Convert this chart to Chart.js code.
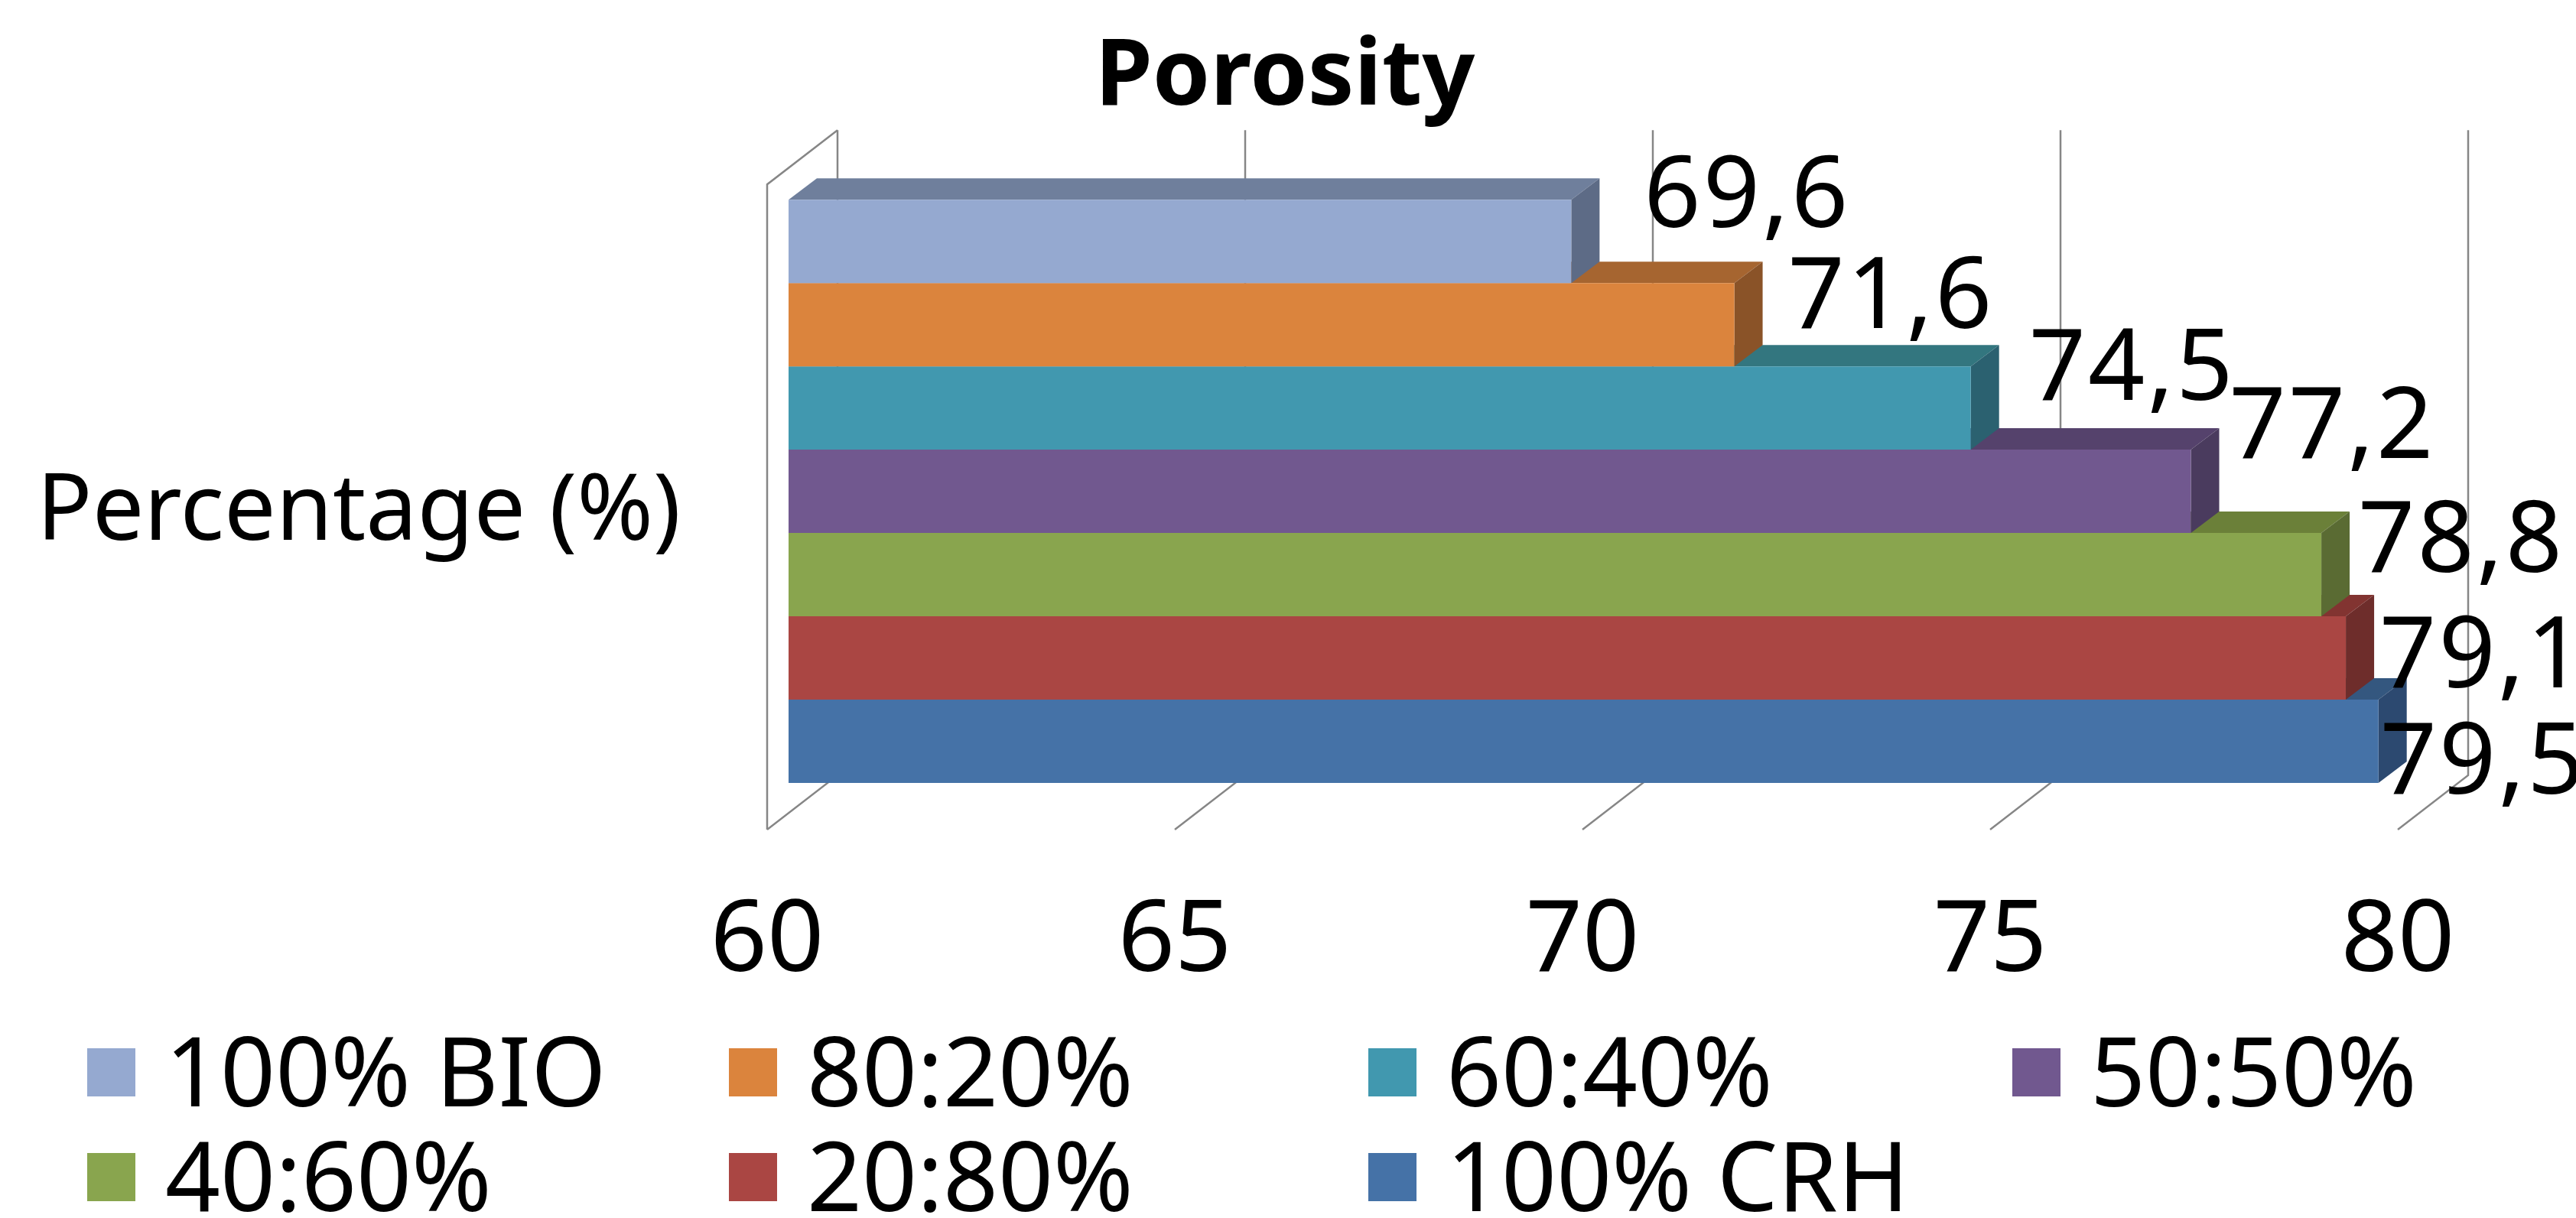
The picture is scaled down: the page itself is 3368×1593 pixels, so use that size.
<!DOCTYPE html>
<html>
<head>
<meta charset="utf-8">
<title>Porosity</title>
<script src="https://cdn.jsdelivr.net/npm/chart.js@4"></script>
<style>
    html, body { margin: 0; padding: 0; background: #fff; }
    canvas { display: block; }
</style>
</head>
<body>
<canvas id="myChart" width="3368" height="1593"></canvas>
<script>
const categories = ['Percentage (%)']
const seriesNames = ['100% BIO', '80:20%', '60:40%', '50:50%', '40:60%', '20:80%', '100% CRH']
const porosity = [69.6, 71.6, 74.5, 77.2, 78.8, 79.1, 79.5]
const xTicks = [60, 65, 70, 75, 80]

const frontColors = ['#95a9d0', '#db843d', '#4198af', '#71588f', '#89a54e', '#aa4643', '#4572a7']
const topColors = ['#6f7f9c', '#a66530', '#33767f', '#55426c', '#6b8039', '#823431', '#34577f']
const sideColors = ['#5d6b86', '#8a5328', '#2b6170', '#4a3b5e', '#5a6b33', '#6e2d2b', '#2c4970']

// hand placed data labels, offset from the bar end: [dx, baseline dy]
const labelOffsets = [[95, -19], [70, 4], [76, -11], [50, -44], [48, -4], [44, 38], [2, 68]]

const FONT = '"Noto Sans"'
const depth = { x: 37, y: -28 }
const barShift = { x: 28, y: -20.5 }
const wallDepth = { x: 92, y: -71 }
const legendCols = [114, 953, 1789, 2631]
const legendRows = [1371, 1508]

const box3d = {
    id: 'box3d',
    afterLayout(chart) {
        // title is centred on the padded box, the long category label still has to show left of it
        chart.scales.y.left = 0
    },
    beforeDatasetsDraw(chart) {
        // back wall, floor lines
        const { ctx, chartArea, scales } = chart
        ctx.save()
        ctx.strokeStyle = '#868686'
        ctx.lineWidth = 2.5
        xTicks.forEach(t => {
            const x = scales.x.getPixelForValue(t)
            ctx.beginPath()
            ctx.moveTo(x + wallDepth.x, chartArea.top + wallDepth.y)
            ctx.lineTo(x + wallDepth.x, chartArea.bottom + wallDepth.y)
            ctx.lineTo(x, chartArea.bottom)
            ctx.stroke()
        })
        const left = chartArea.left
        ctx.beginPath()
        ctx.moveTo(left + wallDepth.x, chartArea.top + wallDepth.y)
        ctx.lineTo(left, chartArea.top)
        ctx.lineTo(left, chartArea.bottom)
        ctx.stroke()
        ctx.restore()
    },
    beforeDatasetDraw(chart, args) {
        const { ctx } = chart
        ctx.save()
        ctx.translate(barShift.x, barShift.y)
        args.meta.data.forEach(bar => {
            const t = bar.y - bar.height / 2
            const b = bar.y + bar.height / 2
            ctx.fillStyle = topColors[args.index]
            ctx.beginPath()
            ctx.moveTo(bar.base, t)
            ctx.lineTo(bar.base + depth.x, t + depth.y)
            ctx.lineTo(bar.x + depth.x, t + depth.y)
            ctx.lineTo(bar.x, t)
            ctx.closePath()
            ctx.fill()
            ctx.fillStyle = sideColors[args.index]
            ctx.beginPath()
            ctx.moveTo(bar.x, t)
            ctx.lineTo(bar.x + depth.x, t + depth.y)
            ctx.lineTo(bar.x + depth.x, b + depth.y)
            ctx.lineTo(bar.x, b)
            ctx.closePath()
            ctx.fill()
        })
    },
    afterDatasetDraw(chart) {
        chart.ctx.restore()
    },
    afterDatasetsDraw(chart) {
        // value labels
        const { ctx } = chart
        ctx.save()
        ctx.fillStyle = '#000'
        ctx.font = '130px ' + FONT
        ctx.letterSpacing = '3px'
        ctx.textAlign = 'left'
        ctx.textBaseline = 'alphabetic'
        chart.data.datasets.forEach((ds, i) => {
            const bar = chart.getDatasetMeta(i).data[0]
            const off = labelOffsets[i]
            ctx.fillText(String(ds.data[0]).replace('.', ','), bar.x + barShift.x + off[0], bar.y + barShift.y + off[1])
        })
        ctx.restore()
    },
    afterDraw(chart) {
        // two rows in fixed columns, the built in legend can't line these up
        const { ctx } = chart
        ctx.save()
        ctx.font = '126px ' + FONT
        ctx.textAlign = 'left'
        ctx.textBaseline = 'alphabetic'
        chart.data.datasets.forEach((ds, i) => {
            const x = legendCols[i % 4]
            const y = legendRows[Math.floor(i / 4)]
            ctx.fillStyle = ds.backgroundColor
            ctx.fillRect(x, y, 63, 63)
            ctx.fillStyle = '#000'
            ctx.fillText(ds.label, x + 39 + 63, y + 76)
        })
        ctx.restore()
    }
}

const ctx = document.getElementById('myChart')
new Chart(ctx, {
    type: 'bar',
    data: {
        labels: categories,
        datasets: seriesNames.map((name, i) => ({
            label: name,
            data: [porosity[i]],
            base: xTicks[0],
            backgroundColor: frontColors[i],
            borderWidth: 0,
            categoryPercentage: 0.904,
            barPercentage: 1,
            clip: false
        }))
    },
    plugins: [box3d],
    options: {
        indexAxis: 'y',
        responsive: false,
        devicePixelRatio: 1,
        animation: false,
        layout: { padding: { right: 233, top: 0, bottom: 0, left: 225 } },
        plugins: {
            legend: { display: false },
            tooltip: { enabled: false },
            title: {
                display: true,
                text: 'Porosity',
                color: '#000',
                font: { family: FONT, size: 121, weight: 'bold', lineHeight: 1.2 },
                padding: { top: 30, bottom: 66 }
            }
        },
        scales: {
            x: {
                min: 60,
                max: 80,
                afterBuildTicks(scale) { scale.ticks = xTicks.map(v => ({ value: v })) },
                afterFit(scale) { scale.height = 508 },
                grid: { display: false },
                border: { display: false },
                ticks: {
                    color: '#000',
                    maxRotation: 0,
                    padding: 62,
                    font: { family: FONT, size: 130 }
                }
            },
            y: {
                afterFit(scale) { scale.width = 778 },
                grid: { display: false },
                border: { display: false },
                ticks: {
                    color: '#000',
                    padding: 105,
                    labelOffset: 9,
                    font: { family: FONT, size: 120 }
                }
            }
        }
    }
})
</script>
</body>
</html>
